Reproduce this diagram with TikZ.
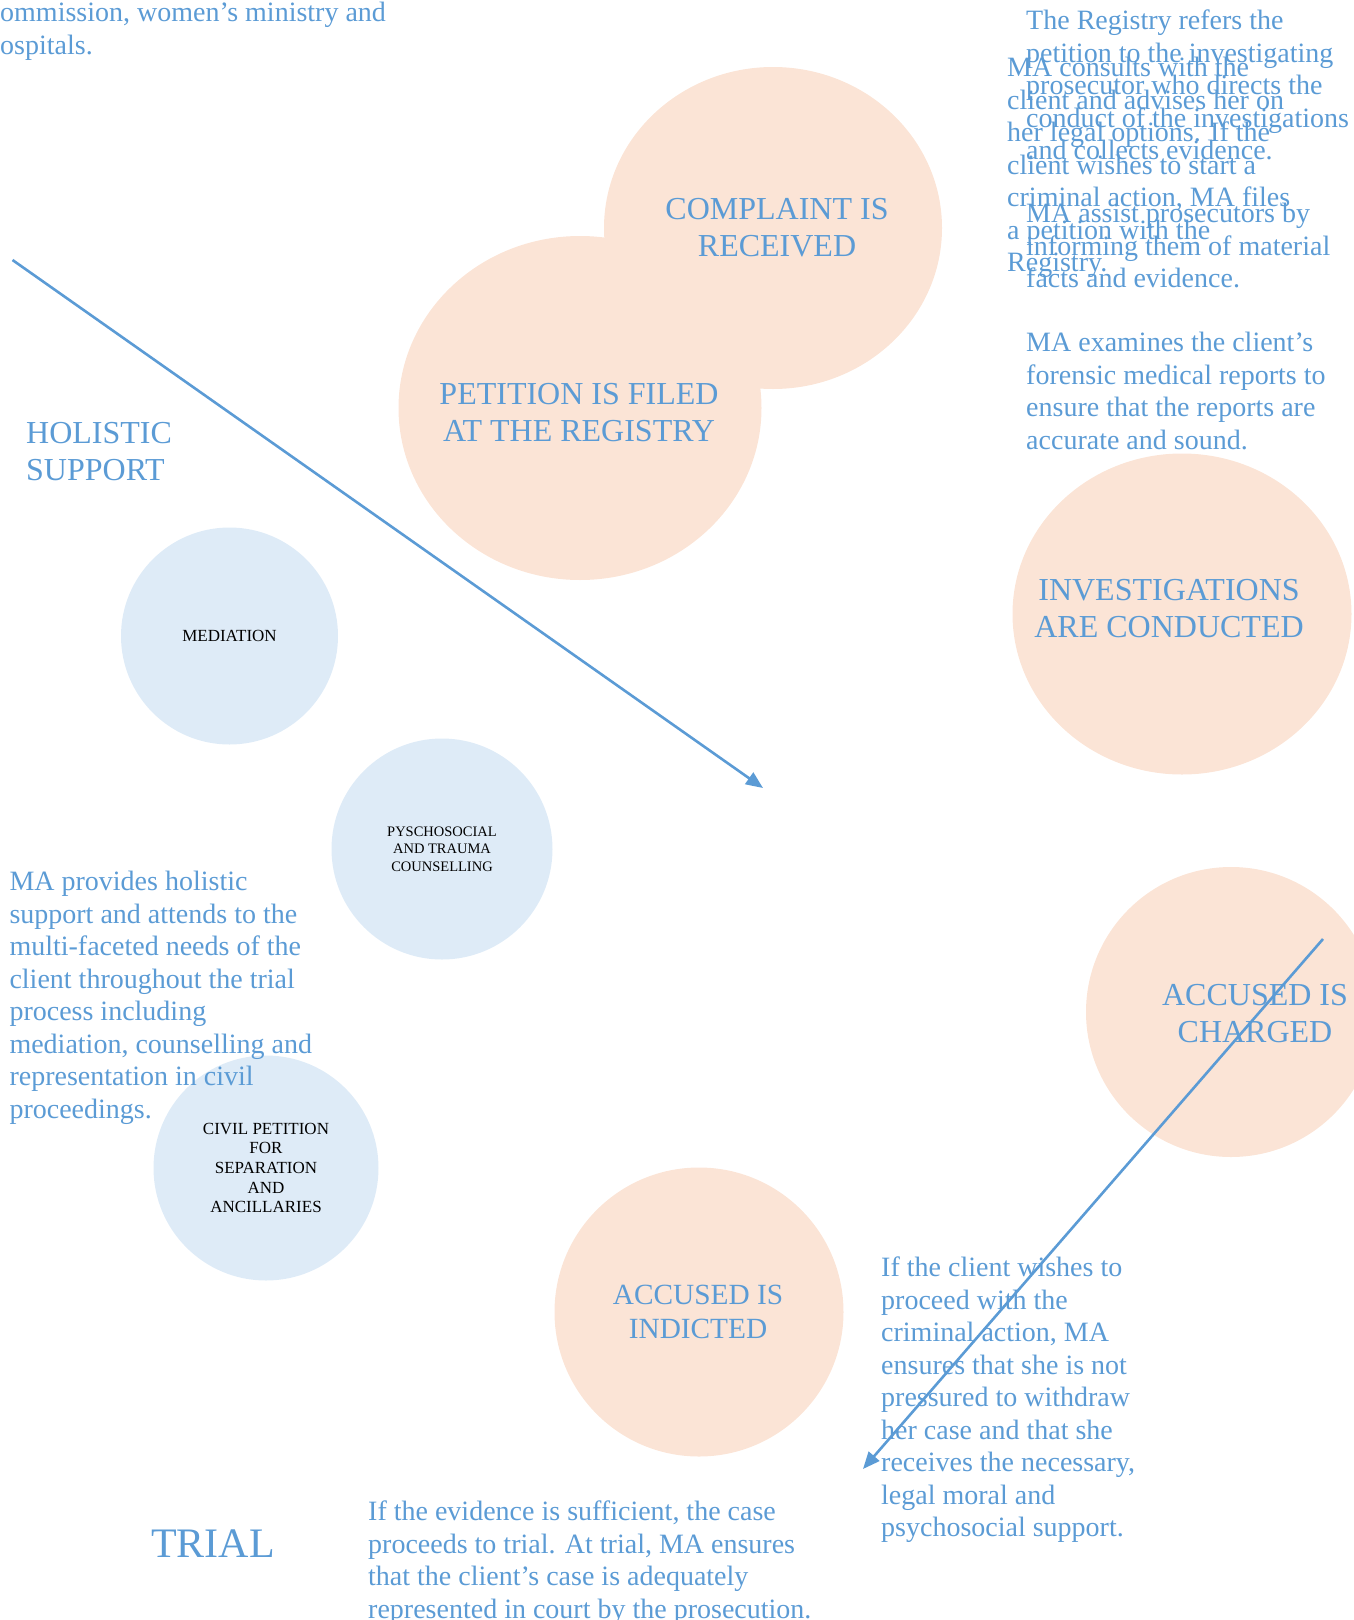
\documentclass[tikz,border=0pt]{standalone}
\usepackage{fontspec}
\setmainfont{Liberation Serif}
\usetikzlibrary{arrows.meta,shapes.geometric}
\definecolor{txtblue}{HTML}{5B9BD5}
\definecolor{peach}{HTML}{FBE4D6}
\definecolor{paleblue}{HTML}{DEEBF7}

\begin{document}
\begin{tikzpicture}[x=1pt,y=-1pt,
  stage/.style={ellipse, fill=peach, inner sep=0pt, minimum width=#1, minimum height=#1},
  oval/.style 2 args={ellipse, fill=peach, inner sep=0pt, minimum width=#1, minimum height=#2},
  support/.style={circle, fill=paleblue, inner sep=0pt, minimum size=#1, text=black, align=center},
  stagetext/.style={text=txtblue, align=center, inner sep=0pt, font=\fontsize{32}{37}\selectfont},
  note/.style={text=txtblue, align=left, inner sep=0pt, anchor=north west, font=\fontsize{28}{32.5}\selectfont},
  flow/.style={draw=txtblue, line width=2.6pt, -{Triangle[length=17pt,width=14pt]}}]

\useasboundingbox (0,0) rectangle (1354,1620);

% process stages
\node[oval={338pt}{322pt}] (complaint) at (773,228) {};
\node[oval={363pt}{344pt}] (petition) at (580,408) {};
\node[oval={339pt}{321pt}] (investigate) at (1182,614) {};
\node[stage=290pt] (charged) at (1231,1012) {};
\node[stage=289pt] (indicted) at (699,1312) {};

\node[stagetext] (complaint-t) at (777,228) {COMPLAINT IS\\RECEIVED};
\node[stagetext] (petition-t) at (579,413) {PETITION IS FILED\\AT THE REGISTRY};
\node[stagetext] (investigate-t) at (1169,609) {INVESTIGATIONS\\ARE CONDUCTED};
\node[stagetext] (charged-t) at (1255,1014) {ACCUSED IS\\CHARGED};
\node[stagetext, font=\fontsize{29.3}{34}\selectfont] (indicted-t) at (698,1312) {ACCUSED IS\\INDICTED};

% holistic support services
\node[support=217pt, font=\fontsize{17}{19.7}\selectfont] (mediation) at (229.5,636) {MEDIATION};
\node[support=221pt, font=\fontsize{14.5}{17.5}\selectfont] (counselling) at (442,849) {PYSCHOSOCIAL\\AND TRAUMA\\COUNSELLING};
\node[support=225pt, font=\fontsize{17}{19.7}\selectfont] (civil) at (266,1168) {CIVIL PETITION\\FOR\\SEPARATION\\AND\\ANCILLARIES};

% headings
\node[text=txtblue, align=left, inner sep=0pt, anchor=north west, font=\fontsize{32}{37}\selectfont] (holistic) at (26,422) {HOLISTIC\\SUPPORT};
\node[text=txtblue, inner sep=0pt, font=\fontsize{42}{48}\selectfont] (trial) at (213,1544) {TRIAL};

% descriptions
\node[note] (partners) at (0,2) {ommission, women’s ministry and\\ospitals.};
\node[note] (refers) at (1026,10) {The Registry refers the\\petition to the investigating\\prosecutor who directs the\\conduct of the investigations\\and collects evidence.};
\node[note] (consults) at (1007,57) {MA consults with the\\client and advises her on\\her legal options. If the\\client wishes to start a\\criminal action, MA files\\a petition with the\\Registry.};
\node[note] (assist) at (1026,203) {MA assist prosecutors by\\informing them of material\\facts and evidence.};
\node[note] (examines) at (1026,332) {MA examines the client’s\\forensic medical reports to\\ensure that the reports are\\accurate and sound.};
\node[note] (provides) at (9.3,871) {MA provides holistic\\support and attends to the\\multi-faceted needs of the\\client throughout the trial\\process including\\mediation, counselling and\\representation in civil\\proceedings.};
\node[note] (proceed) at (881,1257) {If the client wishes to\\proceed with the\\criminal action, MA\\ensures that she is not\\pressured to withdraw\\her case and that she\\receives the necessary,\\legal moral and\\psychosocial support.};
\node[note] (evidence) at (368,1501) {If the evidence is sufficient, the case\\proceeds to trial. At trial, MA ensures\\that the client’s case is adequately\\represented in court by the prosecution.};

% connectors
\coordinate (a1-start) at (12.5,260);
\coordinate (a1-end) at (763,788);
\coordinate (a2-start) at (1323,939);
\coordinate (a2-end) at (863,1469);
\draw[flow] (a1-start) -- (a1-end);
\draw[flow] (a2-start) -- (a2-end);
\end{tikzpicture}
\end{document}
